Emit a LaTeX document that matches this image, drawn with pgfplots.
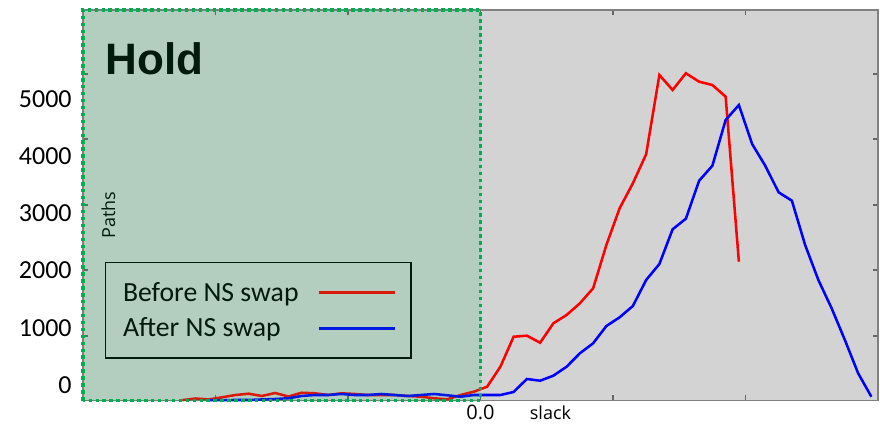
\documentclass[border=0pt]{standalone}
\usepackage{pgfplots}
\pgfplotsset{compat=1.18}
\usepackage{fontspec}
\setmainfont{Carlito}
\newfontfamily\opensans{Open Sans}
\newfontfamily\libsans{Liberation Sans}
\definecolor{bggray}{HTML}{D3D3D3}
\definecolor{holdgreen}{HTML}{00B050}
\begin{document}
\begin{tikzpicture}
\path (0,0) rectangle (660pt,318.75pt);
\begin{axis}[
  at={(62.25pt,18.375pt)}, anchor=south west,
  scale only axis, width=596.25pt, height=292.875pt,
  xmin=-3, xmax=3, ymin=-271, ymax=6555,
  set layers, clip=false,
  axis background/.style={fill=bggray},
  axis line style={draw=gray, line width=0.8pt},
  xtick={-2,-1,0,1,2}, xticklabels={,,0.0,,},
  ytick={857,2010,3146,4300,5436}, yticklabels={},
  extra y ticks={0,1000,2000,3000,4000,5000},
  extra y tick labels={0,1000,2000,3000,4000,5000},
  extra y tick style={major tick length=0pt, yticklabel style={xshift=-5pt}},
  major tick length=4pt,
  tick style={draw=gray!80!black, line width=0.8pt},
  ticklabel style={font=\fontsize{19.5}{22}\selectfont},
  xticklabel style={font=\opensans\fontsize{15}{18}\selectfont},
  legend style={at={(rel axis cs:0.0277,0.3547)}, anchor=north west, draw=black, line width=1pt, fill=none,
    inner xsep=11pt, inner ysep=12.5pt, row sep=7pt, column sep=12pt,
    font=\fontsize{20.8}{24}\selectfont, nodes={inner sep=2pt, anchor=west}},
  legend cell align=left,
  legend plot pos=right,
  legend image code/.code={\draw[#1, line width=2.3pt] (0pt,0pt) -- (57pt,0pt);},
]
\addplot[red, line width=1.9pt] coordinates {
(-2.25,-265) (-2.15,-236) (-2.05,-253) (-1.95,-215) (-1.85,-175) (-1.75,-152) (-1.65,-192) (-1.55,-140) (-1.45,-201) (-1.35,-135) (-1.25,-145) (-1.15,-175) (-1.05,-145) (-0.95,-157) (-0.85,-175) (-0.75,-175) (-0.65,-175) (-0.55,-192) (-0.45,-205) (-0.35,-232) (-0.25,-250) (-0.15,-175) (-0.05,-117) (0.05,-30) (0.15,320) (0.25,844) (0.35,862) (0.45,739) (0.55,1079) (0.65,1224) (0.75,1428) (0.85,1690) (0.95,2447) (1.05,3089) (1.15,3526) (1.25,4033) (1.35,5419) (1.45,5157) (1.55,5449) (1.65,5302) (1.75,5244) (1.85,5040) (1.95,2155)
};
\addlegendentry{Before NS swap}
\addplot[blue, line width=1.9pt] coordinates {
(-2.05,-265) (-1.95,-265) (-1.85,-262) (-1.75,-262) (-1.65,-253) (-1.55,-245) (-1.45,-232) (-1.35,-192) (-1.25,-175) (-1.15,-175) (-1.05,-157) (-0.95,-175) (-0.85,-175) (-0.75,-157) (-0.65,-175) (-0.55,-192) (-0.45,-175) (-0.35,-157) (-0.25,-180) (-0.15,-205) (-0.05,-175) (0.05,-175) (0.15,-175) (0.25,-122) (0.35,105) (0.45,75) (0.55,163) (0.65,320) (0.75,554) (0.85,729) (0.95,1031) (1.05,1183) (1.15,1381) (1.25,1835) (1.35,2115) (1.45,2722) (1.55,2907) (1.65,3571) (1.75,3833) (1.85,4632) (1.95,4894) (2.05,4213) (2.15,3828) (2.25,3368) (2.35,3222) (2.45,2447) (2.55,1835) (2.65,1341) (2.75,787) (2.85,205) (2.95,-205)
};
\addlegendentry{After NS swap}
\node[anchor=base west, inner sep=0pt, font=\libsans\bfseries\fontsize{33}{36}\selectfont] at (axis cs:-2.83,5419) {Hold};
\node[rotate=90, inner sep=0pt, font=\opensans\fontsize{13.5}{16}\selectfont] at (axis cs:-2.808,2972) {Paths};
\node[inner sep=0pt, font=\opensans\fontsize{13.5}{16}\selectfont] at (axis cs:0.528,-489) {slack};
\begin{pgfonlayer}{axis foreground}
\fill[holdgreen, fill opacity=0.15] (axis cs:-3,-271) rectangle (axis cs:0,6555);
\draw[holdgreen, line width=2.6pt, dash pattern=on 2.6pt off 2.6pt] (axis cs:-3,-271) rectangle (axis cs:0,6555);
\end{pgfonlayer}
\end{axis}
\end{tikzpicture}
\end{document}
